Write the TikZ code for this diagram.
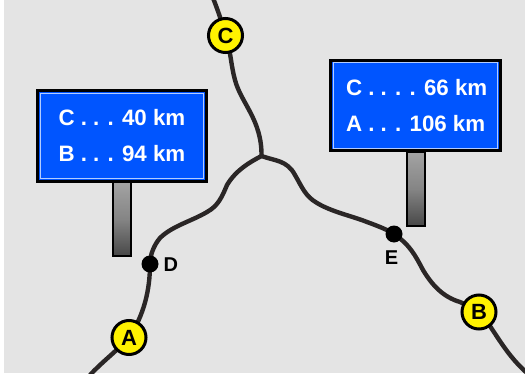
\documentclass[tikz,border=0pt]{standalone}
\usepackage{fontspec}
\setmainfont{Liberation Sans}
\pgfdeclarelayer{bg}
\pgfdeclarelayer{roads}
\pgfsetlayers{bg,roads,main}
\definecolor{ground}{HTML}{E4E4E4}
\definecolor{signblue}{HTML}{0055FF}
\definecolor{roadcol}{HTML}{2A2626}
\tikzset{
  every node/.style={inner sep=0pt,outer sep=0pt},
  road/.style={draw=roadcol,line width=4.4pt,line cap=butt,line join=round},
  city/.style={circle,draw=black,line width=3pt,fill=yellow,minimum size=34pt,font=\fontsize{22}{22}\selectfont\bfseries},
  junction/.style={circle,fill=black,minimum size=17pt},
  junclabel/.style={font=\fontsize{20}{20}\selectfont\bfseries,text=black},
  signbox/.style={rectangle,draw=black,line width=3pt,fill=signblue},
  signline/.style={anchor=base west,text=white,font=\fontsize{22.3}{22.3}\selectfont\bfseries},
  signpost/.style={rectangle,draw=black,line width=2pt,top color=black!36,bottom color=black!72,middle color=black!48},
}
\begin{document}
\begin{tikzpicture}[x=1pt,y=-1pt]
\useasboundingbox (0,0) rectangle (525,380);
% posts
\node[signpost,minimum width=18.5pt,minimum height=74pt] (postL) at (121.8,219) {};
\node[signpost,minimum width=18.5pt,minimum height=74pt] (postR) at (416,189) {};
% signs
\node[signbox,minimum width=169pt,minimum height=90.5pt] (signL) at (122,136) {};
\node[rectangle,draw=white!70!signblue,line width=1pt,minimum width=163.5pt,minimum height=85.5pt] (frameL) at (122,136) {};
\node[signbox,minimum width=169.5pt,minimum height=90.5pt] (signR) at (415.7,105.4) {};
\node[rectangle,draw=white!70!signblue,line width=1pt,minimum width=164pt,minimum height=85.5pt] (frameR) at (415.7,105.4) {};
\node[signline] (l1) at (58.5,125.7) {C . . . 40 km};
\node[signline] (l2) at (58.5,161.7) {B . . . 94 km};
\node[signline] (r1) at (346,95) {C . . . . 66 km};
\node[signline] (r2) at (346,131.7) {A . . . 106 km};
% places
\node[city] (C) at (225.5,35.5) {C};
\node[city] (A) at (129,337.5) {A};
\node[city] (B) at (479,312) {B};
\node[junction] (D) at (150,264) {};
\node[junction] (E) at (394,234) {};
\node[junclabel,anchor=base west] (Dl) at (163.5,271.7) {D};
\node[junclabel,anchor=base] (El) at (391.5,264.3) {E};
\coordinate (J) at (261.5,156);
\coordinate (top) at (213,-2);
\coordinate (botL) at (90,375);
\coordinate (botR) at (527,373);
\begin{pgfonlayer}{bg}
\fill[white] (0,0) rectangle (525,380);
\fill[ground] (4,0) rectangle (525,373);
\end{pgfonlayer}
\begin{pgfonlayer}{roads}
\clip (4,0) rectangle (525,373);
\draw[road] (top) .. controls (217,8) and (222,22) .. (C.center)
  .. controls (231,52) and (231,66) .. (235,80)
  .. controls (241,103) and (262,120) .. (J);
\draw[road] (J) .. controls (250,162) and (236,170) .. (227,185)
  .. controls (222,197) and (218,206) .. (207,212)
  .. controls (192,221) and (172,226) .. (160,238)
  .. controls (154,245) and (150,255) .. (D.center)
  .. controls (150,290) and (144,315) .. (A.center)
  .. controls (118,350) and (103,361) .. (botL);
\draw[road] (J) .. controls (275,161) and (287,160) .. (295,175)
  .. controls (302,187) and (305,196) .. (317,203)
  .. controls (332,212) and (352,216) .. (367,222)
  .. controls (378,226) and (388,230) .. (E.center)
  .. controls (410,245) and (415,255) .. (423,270)
  .. controls (432,285) and (443,297) .. (460,302)
  .. controls (467,305) and (472,308) .. (B.center)
  .. controls (492,325) and (503,352) .. (botR);
\end{pgfonlayer}
\end{tikzpicture}
\end{document}
